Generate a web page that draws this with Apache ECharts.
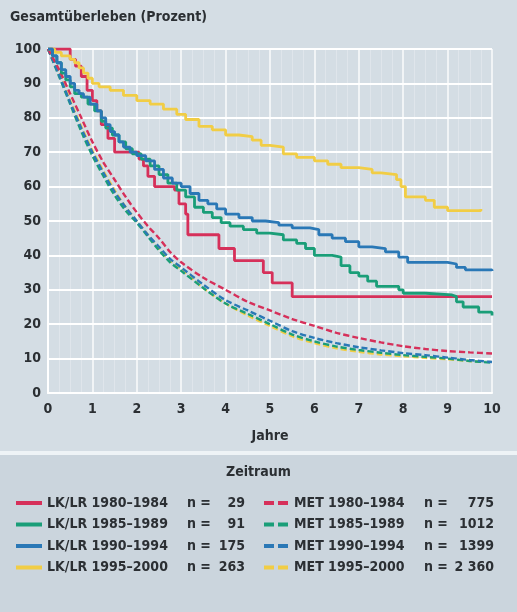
<!DOCTYPE html>
<html>
<head>
<meta charset="utf-8">
<script src="https://cdn.jsdelivr.net/npm/echarts@6/dist/echarts.min.js"></script>
<style>
html,body{margin:0;padding:0;background:#d4dde4;}
#c{width:517px;height:612px;}
</style>
</head>
<body>
<div id="c"></div>
<script>
// ---- data (years, survival %) ----
const xTicks = [0,1,2,3,4,5,6,7,8,9,10];
const yTicks = [0,10,20,30,40,50,60,70,80,90,100];

const lk8084 = [[0,100],[0.45,100],[0.5,97],[0.62,95],[0.75,92],[0.88,88],[1.0,85],[1.1,82],[1.2,78],[1.35,74],[1.5,70],[2.05,68],[2.15,66],[2.25,63],[2.4,60],[2.85,59],[2.95,55],[3.1,52],[3.15,46],[3.85,42],[4.2,38.5],[4.85,35],[5.05,32],[5.5,28],[10,28]];
const lk8589 = [[0,100],[0.1,98],[0.2,96],[0.3,93],[0.4,91],[0.5,89],[0.6,87],[0.75,86],[0.9,84],[1.05,82],[1.2,79],[1.3,77],[1.45,75],[1.6,73],[1.75,71],[1.9,69.5],[2.1,68],[2.3,66],[2.5,63.5],[2.7,61],[2.9,59],[3.1,57],[3.3,54],[3.5,52.5],[3.7,51],[3.9,49.5],[4.1,48.5],[4.4,47.5],[4.7,46.5],[5.0,46],[5.3,44.5],[5.6,43.5],[5.8,42],[6.0,40],[6.4,39.5],[6.6,37],[6.8,35],[7.0,34],[7.2,32.5],[7.4,31],[7.9,30],[8.0,29],[8.5,28.5],[9.1,28],[9.2,26.5],[9.35,25],[9.7,23.5],[10,22.5]];
const lk9094 = [[0,100],[0.1,98],[0.2,96],[0.3,94],[0.4,92],[0.5,90],[0.6,88],[0.7,87],[0.8,86],[0.95,84],[1.1,82],[1.2,80],[1.3,78],[1.4,76],[1.5,75],[1.6,73],[1.7,71.5],[1.85,70],[2.0,69],[2.2,67.5],[2.4,65],[2.6,62.5],[2.8,61],[3.0,60],[3.2,58],[3.4,56],[3.6,55],[3.8,53.5],[4.0,52],[4.3,51],[4.6,50],[4.9,49.5],[5.2,48.8],[5.5,48],[5.9,47.5],[6.1,46],[6.4,45],[6.7,44],[7.0,42.5],[7.3,42],[7.6,41],[7.9,39.5],[8.1,38],[8.6,38],[9.0,37.5],[9.2,36.5],[9.4,35.8],[10,35.5]];
const lk9500 = [[0,100],[0.15,99],[0.3,98],[0.5,97],[0.6,96],[0.7,94.5],[0.8,93],[0.9,91.5],[1.0,90],[1.15,89],[1.4,88],[1.7,86.5],[2.0,85],[2.3,84],[2.6,82.5],[2.9,81],[3.1,79.5],[3.4,77.5],[3.7,76.5],[4.0,75],[4.3,74.5],[4.6,73.5],[4.8,72],[5.0,71.5],[5.3,69.5],[5.6,68.5],[6.0,67.5],[6.3,66.5],[6.6,65.5],[7.0,65],[7.3,64],[7.5,63.5],[7.85,62],[7.95,60],[8.05,57],[8.3,57],[8.5,56],[8.7,54],[9.0,53],[9.5,53],[9.75,53.5]];

const met8084 = [[0,100],[0.25,94],[0.5,87],[0.75,80],[1,73],[1.25,67],[1.5,62],[1.75,57],[2,52.5],[2.25,48.5],[2.5,45],[2.75,41],[3,38],[3.5,33.5],[4,30],[4.5,26.5],[5,24],[5.5,21.5],[6,19.5],[6.5,17.5],[7,16],[7.5,14.7],[8,13.6],[8.5,12.8],[9,12.2],[9.5,11.8],[10,11.5]];
const met8589 = [[0,100],[0.25,92],[0.5,84],[0.75,76],[1,69],[1.25,63],[1.5,57.5],[1.75,53],[2,49.5],[2.25,45.5],[2.5,41.5],[2.75,38],[3,35.5],[3.5,30.5],[4,26],[4.5,23],[5,20],[5.5,17],[6,15],[6.5,13.5],[7,12.5],[7.5,11.7],[8,11],[8.5,10.5],[9,10],[9.5,9.3],[10,8.8]];
const met9094 = [[0,100],[0.25,92.5],[0.5,84.5],[0.75,77],[1,70],[1.25,64],[1.5,58.5],[1.75,54],[2,50],[2.25,46],[2.5,42.5],[2.75,39],[3,36.5],[3.5,31.5],[4,27],[4.5,24],[5,21],[5.5,18],[6,16],[6.5,14.5],[7,13.3],[7.5,12.4],[8,11.6],[8.5,11],[9,10.3],[9.5,9.6],[10,9]];
const met9500 = [[0,100],[0.25,93],[0.5,85],[0.75,77.5],[1,70.5],[1.25,64.5],[1.5,59],[1.75,54],[2,50],[2.25,46],[2.5,42],[2.75,38.5],[3,36],[3.5,30.5],[4,26],[4.5,22.5],[5,19.5],[5.5,16.5],[6,14.5],[6.5,13],[7,12],[7.5,11.2],[8,10.7],[8.5,10.2],[9,9.8],[9.5,9.3],[9.8,9]];

const lkNames = ['LK/LR 1980–1984','LK/LR 1985–1989','LK/LR 1990–1994','LK/LR 1995–2000'];
const metNames = ['MET 1980–1984','MET 1985–1989','MET 1990–1994','MET 1995–2000'];
const lkN = ['29','91','175','263'];
const metN = ['775','1012','1399','2 360'];

const COLORS = ['#d6305a','#1a9e78','#2a78b6','#f1cd45'];
const FONT = '"Liberation Sans Narrow","DejaVu Sans Condensed","Arial Narrow",sans-serif';
const TXT = '#2b2f33';

const lkData = [lk8084, lk8589, lk9094, lk9500];
const metData = [met8084, met8589, met9094, met9500];

const series = [];
// MET dashed (drawn first, underneath)
[3,1,2,0].forEach(i => {
  series.push({
    name: metNames[i], type: 'line', data: metData[i], symbol: 'none',
    smooth: 0.3, z: 2,
    lineStyle: {color: COLORS[i], width: 2.4, type: [6,3]},
    itemStyle: {color: COLORS[i]}
  });
});
// LK/LR solid step curves
[0,3,1,2].forEach(i => {
  series.push({
    name: lkNames[i], type: 'line', data: lkData[i], symbol: 'none',
    step: 'end', z: 3,
    lineStyle: {color: COLORS[i], width: 2.8},
    itemStyle: {color: COLORS[i]}
  });
});

function fmt(names, ns) {
  return function(name) {
    const i = names.indexOf(name);
    return '{a|' + name + '}{b|n =}{c|' + ns[i] + '}';
  };
}
const richL = {
  a: {width: 140, fontSize: 14, fontFamily: FONT, fontWeight: 'bold', color: TXT},
  b: {width: 26, fontSize: 14, fontFamily: FONT, fontWeight: 'bold', color: TXT},
  c: {width: 32, align: 'right', fontSize: 14, fontFamily: FONT, fontWeight: 'bold', color: TXT}
};
const richR = {
  a: {width: 130, fontSize: 14, fontFamily: FONT, fontWeight: 'bold', color: TXT},
  b: {width: 26, fontSize: 14, fontFamily: FONT, fontWeight: 'bold', color: TXT},
  c: {width: 44, align: 'right', fontSize: 14, fontFamily: FONT, fontWeight: 'bold', color: TXT}
};
const SOLID_ICON = 'rect';
const DASH_ICON = 'path://M0,0H10V4H0Z M14,0H24V4H14Z';

const chart = echarts.init(document.getElementById('c'), null, {renderer: 'canvas'});
chart.setOption({
  backgroundColor: '#d4dde4',
  animation: false,
  graphic: [
    {type: 'rect', shape: {x: 0, y: 451, width: 517, height: 4}, style: {fill: '#eef3f6'}, z: -1},
    {type: 'rect', shape: {x: 0, y: 455, width: 517, height: 157}, style: {fill: '#cbd5dd'}, z: -1},
    {type: 'text', left: 10, top: 10, style: {text: 'Gesamtüberleben (Prozent)', font: 'bold 14px ' + FONT, fill: TXT}},
    {type: 'text', left: 'center', top: 465, style: {text: 'Zeitraum', font: 'bold 14px ' + FONT, fill: TXT}}
  ],
  grid: {left: 48, right: 25, top: 49, bottom: 219, containLabel: false},
  xAxis: {
    type: 'value', min: 0, max: 10, interval: 1,
    name: 'Jahre', nameLocation: 'middle', nameGap: 36,
    nameTextStyle: {fontFamily: FONT, fontSize: 14, fontWeight: 'bold', color: TXT},
    axisLine: {show: true, lineStyle: {color: '#ffffff', width: 2}},
    axisTick: {show: false},
    axisLabel: {margin: 9, fontFamily: FONT, fontSize: 14, fontWeight: 'bold', color: TXT},
    splitLine: {show: true, lineStyle: {color: '#ffffff', width: 1.5, opacity: 0.9}},
    minorSplitLine: {show: true, lineStyle: {color: '#ffffff', width: 1, opacity: 0.25}},
    minorTick: {show: false, splitNumber: 4}
  },
  yAxis: {
    type: 'value', min: 0, max: 100, interval: 10,
    axisLine: {show: true, lineStyle: {color: '#ffffff', width: 2}},
    axisTick: {show: false},
    axisLabel: {margin: 7, fontFamily: FONT, fontSize: 14, fontWeight: 'bold', color: TXT},
    splitLine: {show: true, lineStyle: {color: '#ffffff', width: 2}}
  },
  legend: [
    {
      data: lkNames.map(n => ({name: n, icon: SOLID_ICON})), orient: 'vertical', left: 11, top: 491,
      itemWidth: 26, itemHeight: 4, itemGap: 7.5,
      formatter: fmt(lkNames, lkN), textStyle: {rich: richL, padding: [4, 0, 4, 0]}
    },
    {
      data: metNames.map(n => ({name: n, icon: DASH_ICON})), orient: 'vertical', left: 259, top: 491,
      itemWidth: 26, itemHeight: 4, itemGap: 7.5,
      formatter: fmt(metNames, metN), textStyle: {rich: richR, padding: [4, 0, 4, 0]}
    }
  ],
  series: series
});
</script>
</body>
</html>
